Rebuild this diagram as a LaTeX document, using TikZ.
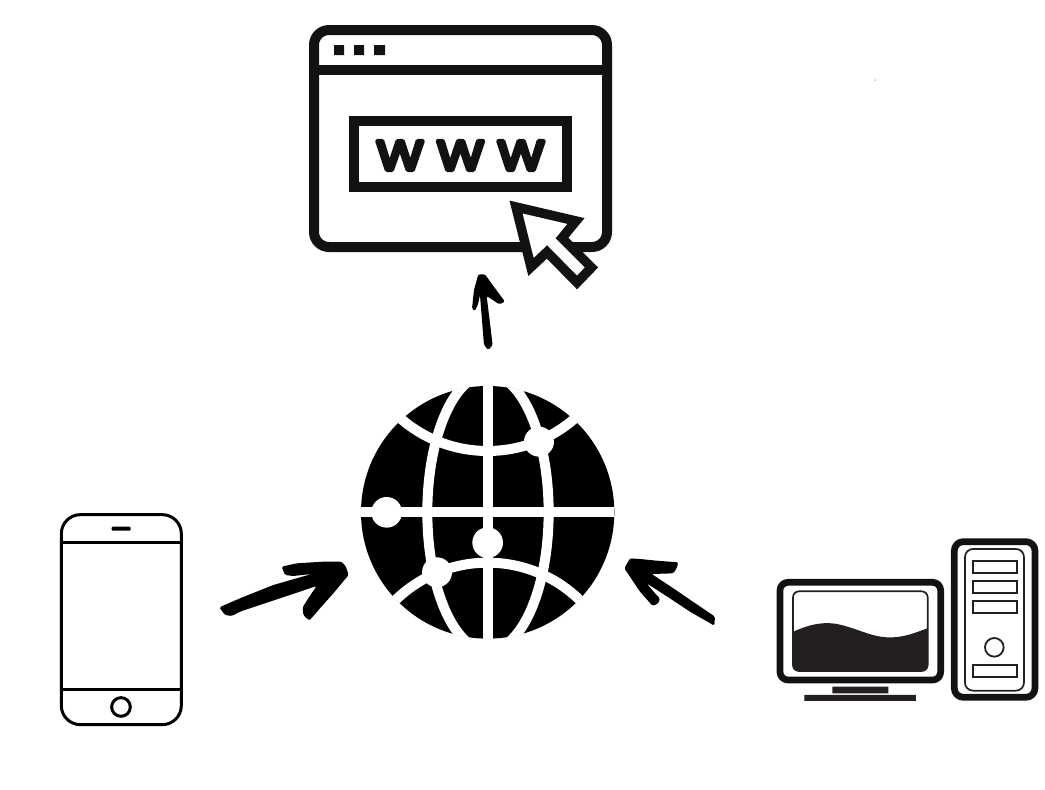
\documentclass[tikz,border=0pt]{standalone}
\usepackage{fontspec}
\newfontfamily\wwwfont[FakeBold=11,FakeStretch=1.18]{Poppins}
\definecolor{screenink}{HTML}{231F20}
\tikzset{
  ink/.style={black,line width=#1,line join=round},
  band/.style={white,line width=10pt},
  hole/.style={fill=white},
  bay/.style={draw=screenink,line width=2pt,fill=white},
  hand/.style={fill=black,rounded corners=1.5pt},
}
\begin{document}
\begin{tikzpicture}[x=1pt,y=-1pt]
\useasboundingbox (0,0) rectangle (1045,790);
\fill[white] (0,0) rectangle (1045,790);
% browser
\draw[ink=10pt,rounded corners=15pt,black!93] (314,30) rectangle (607,247);
\draw[ink=10pt,black!93] (314,70) -- (607,70);
\fill[black!93] (334,45) rectangle (344,55) (354,45) rectangle (364,55) (374,45) rectangle (385,55);
\draw[line width=10pt,black!93] (354,121) rectangle (567,187);
\node[inner sep=0pt,font=\wwwfont\fontsize{41}{41}\selectfont,text=black!93] (www) at (460.5,155.5)
  {\special{pdf:code q 1 j 1 J}\makebox[60.5pt]{W}\makebox[60.5pt]{W}\makebox[60.5pt]{W}\special{pdf:code Q}};
% cursor
\draw[line width=9.5pt,black!93,fill=white,miter limit=10]
  (516,207) -- (576,221) -- (562,238) -- (591.5,267.5) -- (577,282.5) -- (547,252) -- (531,267) -- cycle;
% arrow to browser
\begin{scope}[shift={(290,10)},x=0.3333pt,y=-0.3333pt]
\fill[hand] (595,1020) -- (608,1005) -- (590,858) -- (628,883) -- (645,875) -- (610,828) -- (585,793) -- (565,793)
  -- (552,840) -- (546,897) -- (555,903) -- (565,880) -- (570,855) -- (582,1005) -- cycle;
\end{scope}
% globe
\begin{scope}[shift={(350,375)},x=0.3333pt,y=-0.3333pt]
\fill[black] (413,412) circle[x radius=380,y radius=379];
\begin{scope}
\clip (413,412) circle[x radius=381,y radius=380];
\draw[band] (33,412) -- (793,412);
\draw[band] (414,20) -- (414,800);
\draw[band] (414,412) circle[x radius=182,y radius=415];
\draw[band] (413,-171) circle[radius=399];
\draw[band] (413,959) circle[radius=396];
\end{scope}
\fill[hole] (567,200) circle[radius=45];
\fill[hole] (261,592) circle[radius=45];
\fill[hole] (110,412) circle[radius=46];
\fill[hole] (413,503) circle[radius=46];
\end{scope}
% phone
\begin{scope}[shift={(40,500)},x=0.3333pt,y=-0.3333pt]
\draw[ink=3pt,rounded corners=19pt] (64,44) rectangle (424,674);
\draw[ink=3pt] (64,128) -- (424,128) (64,570) -- (424,570);
\fill[black,rounded corners=1pt] (215,80) rectangle (272,92);
\draw[ink=3pt] (243,621) circle[radius=28];
\fill[hand] (538,322) -- (600,295) -- (700,255) -- (815,222) -- (760,228) -- (735,225) -- (725,200) -- (770,190)
  -- (850,185) -- (905,185) -- (918,200) -- (926,225) -- (880,280) -- (840,325) -- (808,362) -- (790,345)
  -- (788,322) -- (805,295) -- (830,258) -- (720,295) -- (600,335) -- (575,348) -- (555,345) -- cycle;
\end{scope}
% arrow from computer
\begin{scope}[shift={(610,545)},x=0.3333pt,y=-0.3333pt]
\fill[hand] (60,40) -- (43,70) -- (60,95) -- (90,140) -- (128,183) -- (145,175) -- (150,160) -- (135,145) -- (110,115)
  -- (180,160) -- (240,200) -- (313,242) -- (315,215) -- (250,171) -- (190,130) -- (125,87) -- (190,85) -- (200,70)
  -- (205,52) -- (140,47) -- (90,42) -- cycle;
\end{scope}
% computer
\begin{scope}[shift={(760,530)},x=0.3333pt,y=-0.3333pt]
\draw[ink=6.7pt,rounded corners=8pt,black!93] (60,157) rectangle (542,450);
\begin{scope}
\clip[rounded corners=6pt] (99,184) rectangle (503,423);
\fill[screenink] (90,310) .. controls (140,285) and (190,272) .. (240,284)
  .. controls (300,298) and (340,325) .. (400,322) .. controls (440,320) and (475,305) .. (510,292)
  -- (510,430) -- (90,430) -- cycle;
\end{scope}
\draw[screenink,line width=1.7pt,rounded corners=6pt] (99,184) rectangle (503,423);
\fill[screenink] (217,470) rectangle (385,490) (133,495) rectangle (468,513);
\draw[ink=6.7pt,rounded corners=9pt,black!93] (583,35) rectangle (825,502);
\draw[screenink,line width=1.7pt,rounded corners=8pt] (615,57) rectangle (792,482);
\draw[bay] (639,94) rectangle (770,130);
\draw[bay] (639,152) rectangle (770,190);
\draw[bay] (639,212) rectangle (770,250);
\draw[bay] (639,405) rectangle (770,441);
\draw[screenink,line width=1.8pt] (703,352) circle[radius=28];
\end{scope}
\fill[black] (875,80) circle[radius=0.5];
\end{tikzpicture}
\end{document}
